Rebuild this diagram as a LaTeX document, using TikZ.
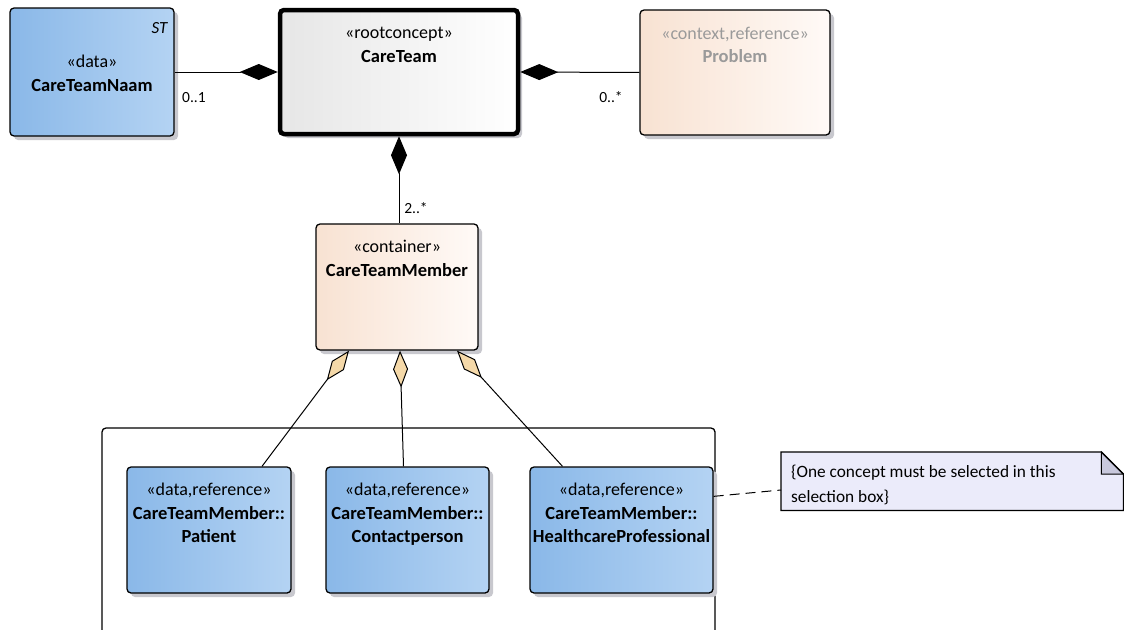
\documentclass[tikz,border=0pt]{standalone}
\usepackage{fontspec}
\setmainfont{Carlito}
\usetikzlibrary{arrows.meta,shadows}
\definecolor{blueL}{HTML}{8AB8E8}
\definecolor{blueR}{HTML}{B4D3F3}
\definecolor{greyL}{HTML}{E6E6E6}
\definecolor{greyR}{HTML}{FFFFFF}
\definecolor{peachL}{HTML}{F8E2D2}
\definecolor{peachR}{HTML}{FFFAF7}
\definecolor{shadowc}{HTML}{C8C8CE}
\definecolor{aggfill}{HTML}{F5D9A9}
\definecolor{notefill}{HTML}{EBEBFA}
\definecolor{foldfill}{HTML}{C8C8DC}
\definecolor{fadedtext}{HTML}{9A9A9A}
\tikzset{
  umlbox/.style={draw=black, line width=1.3pt, rounded corners=4pt, inner sep=0pt,
    drop shadow={shadow xshift=4pt, shadow yshift=-4pt, fill=shadowc, opacity=1}},
  bluebox/.style={umlbox, left color=blueL, right color=blueR},
  peachbox/.style={umlbox, left color=peachL, right color=peachR},
  rootbox/.style={umlbox, line width=4.5pt, left color=greyL, right color=greyR},
  stereo/.style={font=\fontsize{18}{22}\selectfont, inner sep=0pt, anchor=base},
  bname/.style={font=\fontsize{18.5}{22}\selectfont\bfseries, inner sep=0pt, anchor=base},
  mult/.style={font=\fontsize{15.5}{18}\selectfont, inner sep=0pt, anchor=base},
  conn/.style={draw=black, line width=1pt},
  comp/.style={conn, {Diamond[length=38pt,width=16pt,fill=black]}-},
  agg/.style={conn, {Diamond[length=37pt,width=15pt,fill=aggfill]}-},
}
\begin{document}
\begin{tikzpicture}[x=1pt,y=-1pt]
\useasboundingbox[fill=white] (0,0) rectangle (1124,629);

% selection box (open at bottom)
\draw[line width=1.3pt, rounded corners=4pt] (102,640) -- (102,428) -- (715,428) -- (715,640);

% top row
\node[bluebox, minimum width=164pt, minimum height=128pt] (naam) at (92,72) {};
\node[font=\fontsize{17}{20}\selectfont\itshape, inner sep=0pt, anchor=base east] (naamst) at ([xshift=-7pt,yshift=-26pt]naam.north east) {ST};
\node[stereo] (naams) at ([yshift=-60pt]naam.north) {«data»};
\node[bname] (naamn) at ([yshift=-84pt]naam.north) {CareTeamNaam};

\node[rootbox, minimum width=238pt, minimum height=124pt] (team) at (399,72) {};
\node[stereo] (teams) at ([yshift=-31pt]team.north) {«rootconcept»};
\node[bname] (teamn) at ([yshift=-55pt]team.north) {CareTeam};

\node[peachbox, minimum width=190pt, minimum height=125pt] (prob) at (735,72.5) {};
\node[stereo, text=fadedtext] (probs) at ([yshift=-30pt]prob.north) {«context,reference»};
\node[bname, text=fadedtext] (probn) at ([yshift=-53pt]prob.north) {Problem};

% CareTeamMember
\node[peachbox, minimum width=162pt, minimum height=126pt] (ctm) at (397,287) {};
\node[stereo] (ctms) at ([yshift=-29pt]ctm.north) {«container»};
\node[bname] (ctmn) at ([yshift=-53pt]ctm.north) {CareTeamMember};

% selection children
\node[bluebox, minimum width=164pt, minimum height=126pt] (pat) at (209,530) {};
\node[stereo] (pats) at ([yshift=-29pt]pat.north) {«data,reference»};
\node[bname] (patn) at ([yshift=-53pt]pat.north) {CareTeamMember::};
\node[bname] (patm) at ([yshift=-76pt]pat.north) {Patient};

\node[bluebox, minimum width=163pt, minimum height=126pt] (cp) at (407.5,530) {};
\node[stereo] (cps) at ([yshift=-29pt]cp.north) {«data,reference»};
\node[bname] (cpn) at ([yshift=-53pt]cp.north) {CareTeamMember::};
\node[bname] (cpm) at ([yshift=-76pt]cp.north) {Contactperson};

\node[bluebox, minimum width=183pt, minimum height=126pt] (hp) at (621.5,530) {};
\node[stereo] (hps) at ([yshift=-29pt]hp.north) {«data,reference»};
\node[bname] (hpn) at ([yshift=-53pt]hp.north) {CareTeamMember::};
\node[bname] (hpm) at ([yshift=-76pt]hp.north) {HealthcareProfessional};

% note
\node[inner sep=0pt, minimum width=342pt, minimum height=58pt, anchor=north west] (note) at (781,452) {};
\fill[notefill] (note.north west) -- ([xshift=-22pt]note.north east) -- ([yshift=-22pt]note.north east) -- (note.south east) -- (note.south west) -- cycle;
\filldraw[fill=foldfill, draw=black, line width=1pt] ([xshift=-22pt]note.north east) -- ([xshift=-22pt,yshift=-22pt]note.north east) -- ([yshift=-22pt]note.north east) -- cycle;
\draw[line width=1.3pt] (note.north west) -- ([xshift=-22pt]note.north east) -- ([yshift=-22pt]note.north east) -- (note.south east) -- (note.south west) -- cycle;
\node[font=\fontsize{17.3}{25}\selectfont, inner sep=0pt, anchor=base west, align=left] (notet) at ([xshift=10pt,yshift=-50pt]note.north west) {\{One concept must be selected in this\\selection box\}};

% connectors
\draw[comp] (team.west) -- (naam.east);
\draw[comp] (team.east) -- (prob.west);
\draw[comp] (team.south) -- (team.south |- ctm.north);
\node[mult] (m1) at (194,102) {0..1};
\node[mult] (m2) at (611,102) {0..*};
\node[mult] (m3) at (416,213) {2..*};

\draw[agg] ([xshift=-48pt]ctm.south) -- ([xshift=53pt]pat.north);
\draw[agg] ([xshift=3pt]ctm.south) -- ([xshift=-4pt]cp.north);
\draw[agg] ([xshift=60pt]ctm.south) -- ([xshift=-59pt]hp.north);

\draw[conn, dash pattern=on 10pt off 6pt] ([yshift=-30pt]hp.north east) -- ([yshift=-38pt]note.north west);
\end{tikzpicture}
\end{document}
